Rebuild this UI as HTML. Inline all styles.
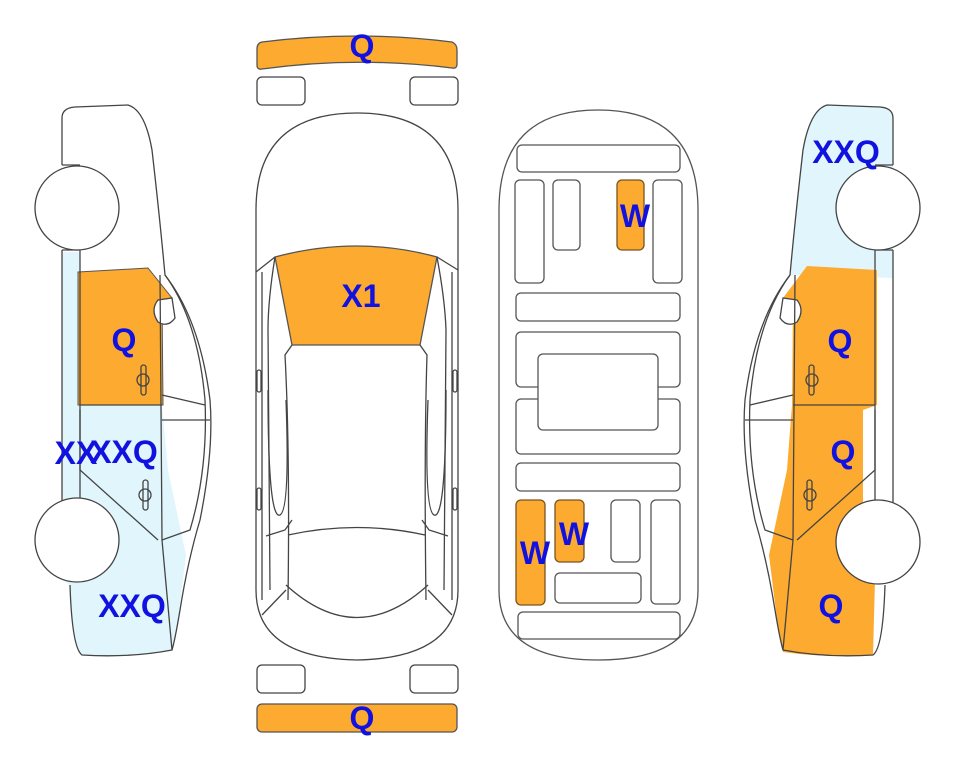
<!DOCTYPE html>
<html><head><meta charset="utf-8"><style>
html,body{margin:0;padding:0;background:#fff;}
svg{display:block;}
text{font-family:"Liberation Sans",Arial,sans-serif;font-weight:bold;font-size:32px;fill:#1212e0;text-anchor:middle;}
</style></head><body>
<svg width="963" height="768" viewBox="0 0 963 768" xmlns="http://www.w3.org/2000/svg">
<defs>
<g id="side" fill="none" stroke="#444" stroke-width="1.3">
  <path d="M62,165 L62,118 Q62,108 75,107 L128,105 Q145,110 152,150 Q160,220 165,275 Q200,320 210,400 Q214,450 200,520 Q188,560 180,610 Q175,640 172,650 Q130,658 82,655 Q72,648 70,585"/>
  <line x1="62" y1="250" x2="62" y2="530"/>
  <line x1="80" y1="250" x2="80" y2="530"/>
  <line x1="62" y1="250" x2="80" y2="250"/>
  <path d="M165,275 Q198,320 205,400 Q208,470 190,530 L162,540"/>
  <path d="M158,300 Q150,310 158,322 Q168,328 175,318 L172,298 Z" fill="#fff"/>
  <path d="M162,395 L205,405 M162,420 L210,420"/>
  <line x1="160" y1="275" x2="162" y2="540"/>
  <line x1="80" y1="405" x2="162" y2="405"/>
  <path d="M80,410 L80,470 L158,540"/>
  <line x1="92" y1="510" x2="92" y2="540"/>
  <path d="M162,540 L172,650"/>
  <rect x="141" y="365" width="5" height="30" rx="2.5"/>
  <path d="M137,380 a6,6 0 0 1 12,0 a6,6 0 0 1 -12,0"/>
  <rect x="143" y="480" width="5" height="30" rx="2.5"/>
  <path d="M139,495 a6,6 0 0 1 12,0 a6,6 0 0 1 -12,0"/>
  <line x1="62" y1="165" x2="80" y2="165"/>
</g>
</defs>

<path d="M62,252 L80,252 L80,405 L162,405 L168,470 L186,555 L178,620 L172,650 Q130,658 82,655 Q72,648 70,585 L62,580 Z" fill="#e0f6fc"/>
<path d="M78,272 L148,268 L172,298 L162,300 L163,405 L78,405 Z" fill="#fcaa30" stroke="#555" stroke-width="1"/>
<use href="#side"/>
<circle cx="77" cy="208" r="42" fill="#fff" stroke="#444" stroke-width="1.3"/>
<circle cx="77" cy="540" r="42" fill="#fff" stroke="#444" stroke-width="1.3"/>

<g transform="translate(955,0) scale(-1,1)">
<path d="M62,118 Q62,108 75,107 L128,105 Q145,110 152,150 Q160,220 165,275 L62,278 Z" fill="#e0f6fc"/>
<path d="M78,270 L148,266 L172,298 L162,300 L163,405 L168,470 L186,555 L178,620 L172,652 Q130,658 82,655 L80,580 L92,540 L92,410 L78,405 Z" fill="#fcaa30"/>
<use href="#side"/>
<circle cx="77" cy="208" r="42" fill="#fff" stroke="#444" stroke-width="1.3"/>
<circle cx="77" cy="542" r="42" fill="#fff" stroke="#444" stroke-width="1.3"/>
</g>

<g fill="none" stroke="#444" stroke-width="1.3">
<path d="M262,42 Q357,30 452,42 Q457,44 457,50 L457,64 Q457,69 452,68 Q357,56 262,69 Q257,70 257,65 L257,49 Q257,43 262,42 Z" fill="#fcaa30" stroke="#555"/>
<rect x="257" y="77" width="48" height="28" rx="5"/>
<rect x="410" y="77" width="48" height="28" rx="5"/>
<rect x="257" y="665" width="48" height="28" rx="5"/>
<rect x="410" y="665" width="48" height="28" rx="5"/>
<rect x="257" y="704" width="200" height="28" rx="5" fill="#fcaa30" stroke="#555"/>
<path d="M256,210 Q256,113 357,113 Q458,113 458,210 L458,590 Q458,658 357,660 Q256,658 256,590 Z"/>
<path d="M275,257 Q357,235 437,257 L420,345 L292,345 Z" fill="#fcaa30" stroke="#555"/>
<path d="M256,272 L275,257 M458,270 L437,257"/>
<path d="M262,272 L262,600 M452,272 L452,600"/>
<path d="M275,257 Q268,300 268,330 L270,590 M437,257 Q445,300 446,330 L444,590"/>
<path d="M292,345 L285,355 Q290,450 288,600 M420,345 L427,355 Q424,450 426,600"/>
<path d="M268,390 Q268,520 280,515 Q290,510 286,400 M446,390 Q446,520 434,515 Q424,510 428,400"/>
<path d="M288,535 Q357,520 425,535 M286,585 Q357,650 428,585"/>
<path d="M266,536 L285,530 L292,520 M448,536 L429,530 L422,520"/>
<path d="M262,615 L286,590 M452,615 L428,590"/>
<rect x="257" y="370" width="4" height="22" rx="2"/>
<rect x="453" y="370" width="4" height="22" rx="2"/>
<rect x="257" y="488" width="4" height="22" rx="2"/>
<rect x="453" y="488" width="4" height="22" rx="2"/>
</g>

<g fill="none" stroke="#555" stroke-width="1.3">
<path d="M499,210 Q499,110 598,110 Q698,110 698,210 L698,590 Q698,660 598,660 Q499,660 499,590 Z"/>
<rect x="517" y="145" width="163" height="27" rx="5"/>
<rect x="515" y="180" width="29" height="103" rx="5"/>
<rect x="553" y="180" width="27" height="70" rx="5"/>
<rect x="617" y="180" width="27" height="70" rx="5" fill="#fcaa30" stroke="#7a5520"/>
<rect x="653" y="180" width="29" height="103" rx="5"/>
<rect x="516" y="293" width="164" height="28" rx="5"/>
<rect x="516" y="332" width="164" height="55" rx="5"/>
<rect x="516" y="399" width="164" height="55" rx="5"/>
<rect x="538" y="354" width="120" height="76" rx="5" fill="#fff"/>
<rect x="516" y="463" width="164" height="28" rx="5"/>
<rect x="516" y="500" width="29" height="105" rx="5" fill="#fcaa30" stroke="#7a5520"/>
<rect x="555" y="500" width="29" height="62" rx="5" fill="#fcaa30" stroke="#7a5520"/>
<rect x="611" y="500" width="29" height="62" rx="5"/>
<rect x="651" y="500" width="29" height="104" rx="5"/>
<rect x="555" y="573" width="86" height="30" rx="5"/>
<rect x="518" y="612" width="162" height="27" rx="5"/>
</g>

<text x="362" y="57">Q</text>
<text x="362" y="729">Q</text>
<text x="361" y="307">X1</text>
<text x="635" y="227">W</text>
<text x="574" y="545">W</text>
<text x="535" y="564">W</text>
<text x="124" y="351">Q</text>
<text x="76" y="464">XX</text>
<text x="124" y="463">XXQ</text>
<text x="132" y="617">XXQ</text>
<text x="846" y="163">XXQ</text>
<text x="840" y="352">Q</text>
<text x="843" y="463">Q</text>
<text x="831" y="617">Q</text>
</svg>
</body></html>
